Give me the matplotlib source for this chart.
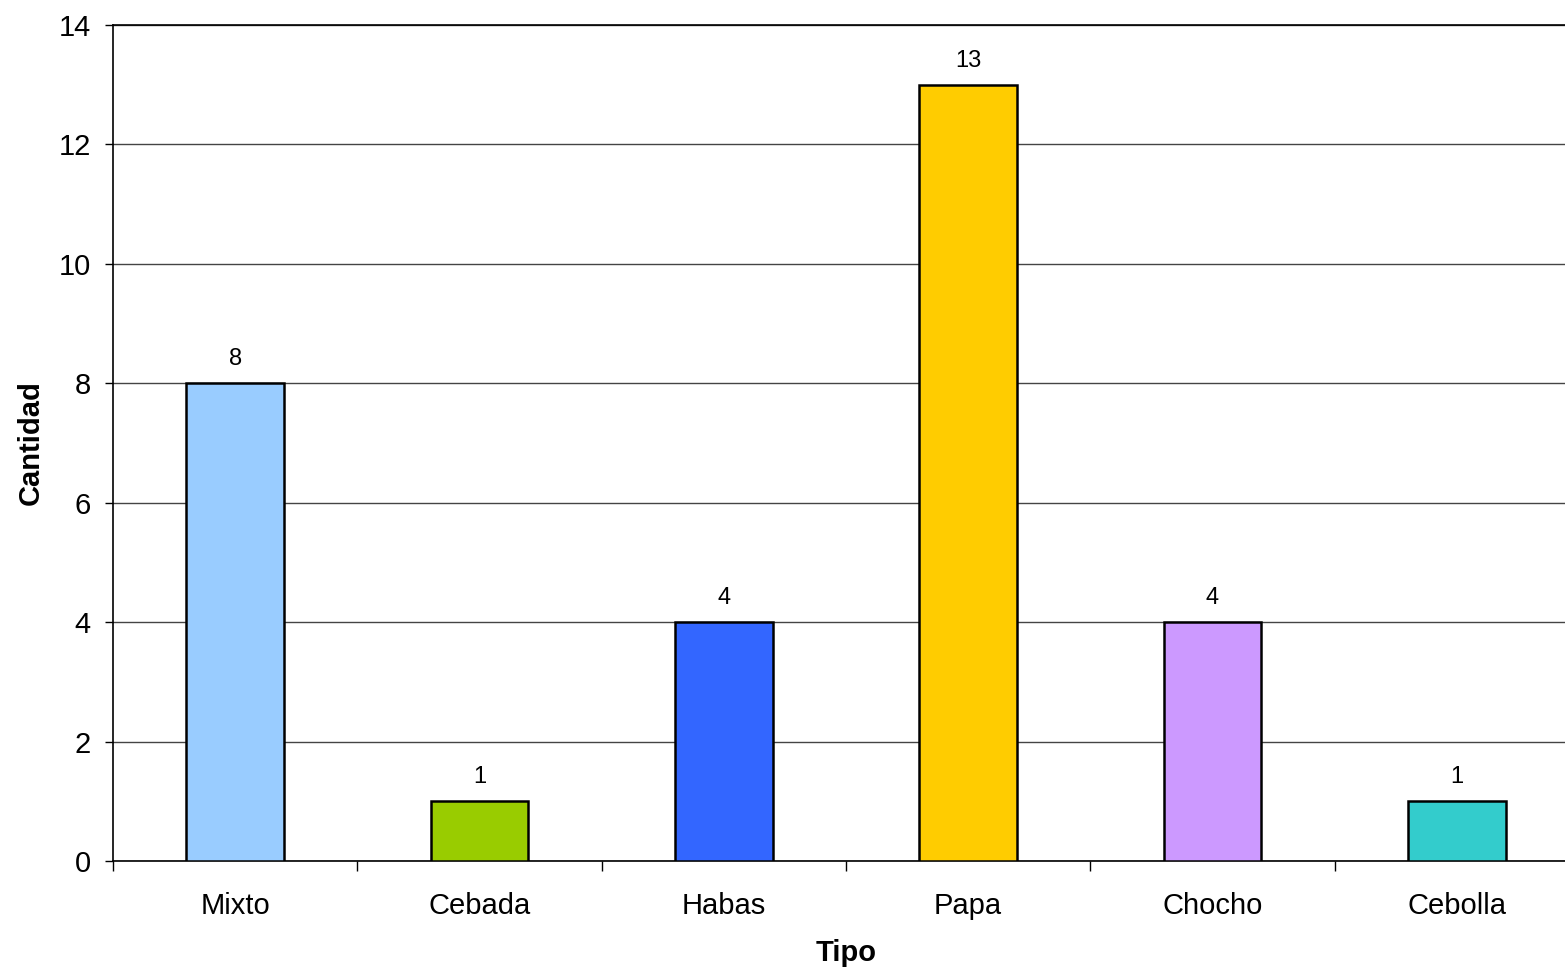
import matplotlib
matplotlib.use("Agg")
import matplotlib.pyplot as plt

categories = ["Mixto", "Cebada", "Habas", "Papa", "Chocho", "Cebolla"]
values = [8, 1, 4, 13, 4, 1]
colors = ["#99CCFF", "#99CC00", "#3366FF", "#FFCC00", "#CC99FF", "#33CCCC"]
yticks = [0, 2, 4, 6, 8, 10, 12, 14]

plt.rcParams["font.family"] = ["Liberation Sans", "DejaVu Sans"]

W, H = 1565, 971
fig = plt.figure(figsize=(W / 100, H / 100), dpi=100)
# plot area runs slightly past the right edge of the figure
ax = fig.add_axes([113 / W, 1 - 861 / H, (1579 - 113) / W, (861 - 25) / H])

x = list(range(len(categories)))
ax.bar(x, values, width=0.40, color=colors, edgecolor="black",
       linewidth=1.8, zorder=3)
for xi, v in zip(x, values):
    ax.text(xi, v + 0.22, str(v), ha="center", va="bottom", fontsize=17)

ax.set_xlim(-0.5, len(categories) - 0.5)
ax.set_ylim(0, 14)
ax.set_yticks(yticks)
ax.set_yticklabels([str(t) for t in yticks], fontsize=21)
ax.yaxis.grid(True, color="#444444", linewidth=1.0, zorder=0)
ax.set_axisbelow(True)

# category labels centred under bars, tick marks on category boundaries
ax.set_xticks(x)
ax.set_xticklabels(categories, fontsize=21)
ax.tick_params(axis="x", length=0, pad=22)
ax.set_xticks([i - 0.5 for i in range(len(categories) + 1)], minor=True)
ax.tick_params(axis="x", which="minor", length=7, width=1, direction="out")
ax.tick_params(axis="y", length=6, width=1, direction="out", pad=10)

for s in ["top", "right"]:
    ax.spines[s].set_visible(False)
ax.spines["left"].set_linewidth(1.2)
ax.spines["bottom"].set_linewidth(1.2)
ax.axhline(14, color="black", linewidth=1.2, zorder=2, clip_on=False)

ax.set_xlabel("Tipo", fontsize=21, fontweight="bold", labelpad=14)
ax.set_ylabel("Cantidad", fontsize=21, fontweight="bold", labelpad=10)

fig.savefig("out.png", dpi=100)
